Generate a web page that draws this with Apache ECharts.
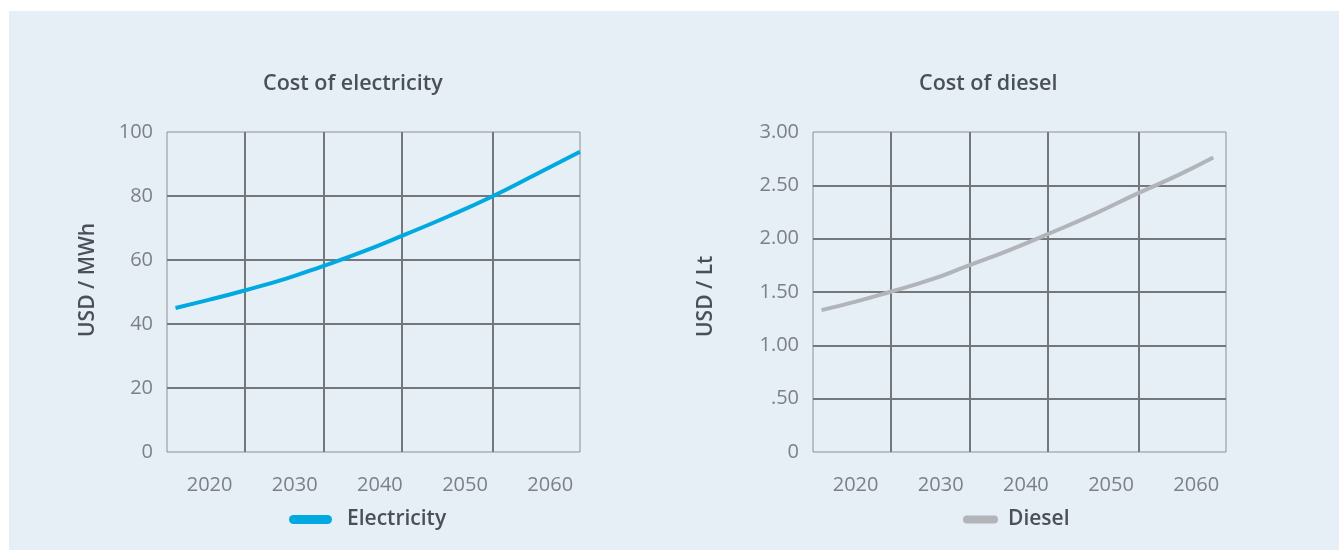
<!DOCTYPE html>
<html>
<head>
<meta charset="utf-8">
<title>Cost of electricity and diesel</title>
<script src="https://cdn.jsdelivr.net/npm/echarts@6/dist/echarts.min.js"></script>
<style>
  html, body { margin: 0; padding: 0; background: #ffffff; }
  #chart { position: absolute; left: 9px; top: 11px; width: 1330px; height: 539px; }
</style>
</head>
<body>
<div id="chart"></div>
<script>
// Projected costs, [year, value]
const electricity = [
  [2016, 45.0], [2020, 47.6], [2024, 50.4], [2029, 54.2], [2033, 57.8],
  [2038, 62.6], [2043, 68.0], [2048, 73.6], [2053, 79.6], [2058, 86.3], [2063.5, 93.8]
];
const diesel = [
  [2016, 1.33], [2020, 1.41], [2024, 1.50], [2029, 1.62], [2033, 1.74],
  [2038, 1.89], [2042.5, 2.04], [2048, 2.23], [2053, 2.42], [2058, 2.60], [2062, 2.76]
];

// Axis ticks and labels
const yearLabels = [2020, 2030, 2040, 2050, 2060];
const yearGridLines = [2024.1, 2033.4, 2042.6, 2053.2];
const electricityTicks = [0, 20, 40, 60, 80, 100];
const dieselTicks = [0, 0.5, 1, 1.5, 2, 2.5, 3];
const dieselTickLabels = ['0', '.50', '1.00', '1.50', '2.00', '2.50', '3.00'];

const titles = ['Cost of electricity', 'Cost of diesel'];
const seriesNames = ['Electricity', 'Diesel'];
const unitNames = ['USD / MWh', 'USD / Lt'];

const FONT = '"Open Sans", "Noto Sans", sans-serif';
const GRID_COLOR = '#75787b';
const LABEL_COLOR = '#7d8085';
const TEXT_COLOR = '#4a4f58';
const COLORS = ['#00a9e0', '#b1b4b9'];

const grids = [
  { left: 158, top: 121, width: 413, height: 320 },
  { left: 804, top: 121, width: 413, height: 320 }
];

function xAxisFor(i) {
  return {
    type: 'value', gridIndex: i, min: 2015, max: 2063.5,
    axisLine: { show: false },
    axisTick: { show: false, customValues: yearGridLines },
    axisLabel: {
      customValues: yearLabels, fontSize: 20, color: LABEL_COLOR,
      fontFamily: FONT, margin: 23, formatter: v => String(v)
    },
    splitLine: { show: true, lineStyle: { color: GRID_COLOR, width: 2 } }
  };
}

function yAxisFor(i, ticks, fmt) {
  return {
    type: 'value', gridIndex: i,
    min: ticks[0], max: ticks[ticks.length - 1], interval: ticks[1] - ticks[0],
    axisLine: { show: false },
    axisTick: { show: false },
    axisLabel: { fontSize: 20, color: LABEL_COLOR, fontFamily: FONT, margin: 14, formatter: fmt },
    splitLine: {
      show: true, showMinLine: false, showMaxLine: false,
      lineStyle: { color: GRID_COLOR, width: 2 }
    }
  };
}

function pill(w, h) {
  const r = h / 2;
  return 'path://M' + r + ',0H' + (w - r) + 'A' + r + ',' + r + ',0,0,1,' + (w - r) + ',' + h +
    'H' + r + 'A' + r + ',' + r + ',0,0,1,' + r + ',0Z';
}

const chart = echarts.init(document.getElementById('chart'), null, { renderer: 'canvas' });

chart.setOption({
  backgroundColor: '#e6eef6',
  animation: false,
  title: [
    { text: titles[0], left: 254, top: 62, padding: 0,
      textStyle: { fontFamily: FONT, fontSize: 21.5, fontWeight: 600, color: TEXT_COLOR } },
    { text: titles[1], left: 910, top: 62, padding: 0,
      textStyle: { fontFamily: FONT, fontSize: 21.5, fontWeight: 600, color: TEXT_COLOR } }
  ],
  legend: [
    { data: [seriesNames[0]], left: 280, top: 498, padding: 0,
      itemWidth: 43, itemHeight: 9, icon: pill(43, 9),
      textStyle: { fontFamily: FONT, fontSize: 21, fontWeight: 600, color: TEXT_COLOR, padding: [0, 0, 0, 10] } },
    { data: [seriesNames[1]], left: 954, top: 498, padding: 0,
      itemWidth: 35, itemHeight: 8, icon: pill(35, 8),
      textStyle: { fontFamily: FONT, fontSize: 21, fontWeight: 600, color: TEXT_COLOR, padding: [0, 0, 0, 5] } }
  ],
  grid: grids.map(g => Object.assign({
    show: true, borderColor: '#8d9094', borderWidth: 1, backgroundColor: 'transparent'
  }, g)),
  xAxis: [xAxisFor(0), xAxisFor(1)],
  yAxis: [
    yAxisFor(0, electricityTicks, v => String(v)),
    yAxisFor(1, dieselTicks, v => dieselTickLabels[Math.round(v / 0.5)])
  ],
  graphic: [
    { type: 'text', x: 79, y: 326, rotation: Math.PI / 2,
      style: { text: unitNames[0], fill: TEXT_COLOR, font: '600 21px ' + FONT,
               align: 'left', verticalAlign: 'middle' } },
    { type: 'text', x: 697, y: 326, rotation: Math.PI / 2,
      style: { text: unitNames[1], fill: TEXT_COLOR, font: '600 21px ' + FONT,
               align: 'left', verticalAlign: 'middle' } }
  ],
  series: [
    { name: seriesNames[0], type: 'line', xAxisIndex: 0, yAxisIndex: 0,
      data: electricity, smooth: true, showSymbol: false, symbol: 'none',
      color: COLORS[0], lineStyle: { width: 4, color: COLORS[0] } },
    { name: seriesNames[1], type: 'line', xAxisIndex: 1, yAxisIndex: 1,
      data: diesel, smooth: true, showSymbol: false, symbol: 'none',
      color: COLORS[1], lineStyle: { width: 4, color: COLORS[1] } }
  ]
});
</script>
</body>
</html>
